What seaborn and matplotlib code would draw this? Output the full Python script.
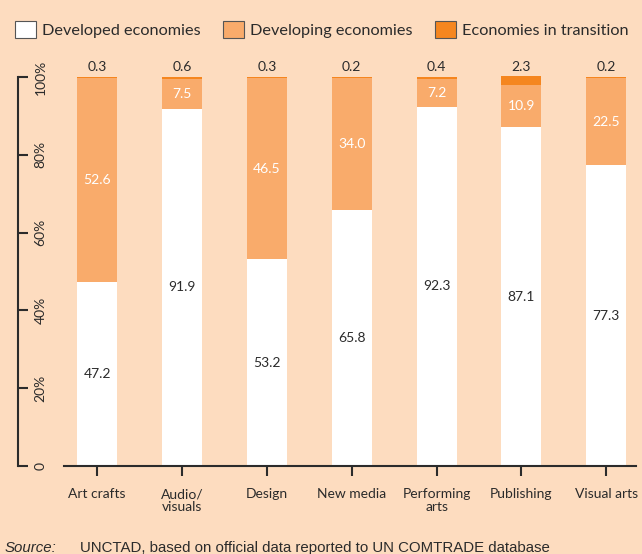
import matplotlib
matplotlib.use("Agg")
import matplotlib.pyplot as plt
import seaborn as sns
import pandas as pd
from matplotlib.patches import Patch

categories = ["Art crafts", "Audio/\nvisuals", "Design", "New media", "Performing\narts", "Publishing", "Visual arts"]
developed = [47.2, 91.9, 53.2, 65.8, 92.3, 87.1, 77.3]
developing = [52.6, 7.5, 46.5, 34.0, 7.2, 10.9, 22.5]
transition = [0.3, 0.6, 0.3, 0.2, 0.4, 2.3, 0.2]
ytick_vals = [0, 20, 40, 60, 80, 100]
ytick_labels = ["0", "20%", "40%", "60%", "80%", "100%"]

BG = "#FDDCBF"
C_DEV = "#FFFFFF"
C_DVG = "#F9AB6B"
C_TRN = "#F5861F"
DARK = "#2b2b2b"

sns.set_theme(style="white")
plt.rcParams["font.family"] = ["Lato", "DejaVu Sans"]

df = pd.DataFrame({"cat": categories, "dev": developed, "dvg": developing, "trn": transition})
df["top2"] = df["dev"] + df["dvg"]
df["top3"] = df["top2"] + df["trn"]

fig = plt.figure(figsize=(6.42, 5.54), dpi=100, facecolor=BG)
ax = fig.add_axes([64/642, 88/554, (636-64)/642, (466-77)/554])
ax.set_facecolor(BG)

w = 0.47
sns.barplot(data=df, x="cat", y="top3", color=C_TRN, saturation=1, width=w, ax=ax, linewidth=0)
sns.barplot(data=df, x="cat", y="top2", color=C_DVG, saturation=1, width=w, ax=ax, linewidth=0)
sns.barplot(data=df, x="cat", y="dev", color=C_DEV, saturation=1, width=w, ax=ax, linewidth=0)
for p in ax.patches:
    p.set_clip_on(False)

ax.set_ylim(0, 100)
ax.set_xlim(-0.39, 6.35)
ax.set_xlabel("")
ax.set_ylabel("")

fs = 10
for i in range(len(categories)):
    ax.text(i, developed[i] / 2, f"{developed[i]:.1f}", ha="center", va="center", fontsize=fs, color=DARK)
    ax.text(i, developed[i] + developing[i] / 2, f"{developing[i]:.1f}", ha="center", va="center", fontsize=fs, color="white")
    ax.text(i, 100.9, f"{transition[i]:.1f}", ha="center", va="bottom", fontsize=fs, color=DARK, clip_on=False)

# spines
for s in ["top", "right"]:
    ax.spines[s].set_visible(False)
ax.spines["left"].set_position(("outward", 46 * 72 / 100))
ax.spines["left"].set_color(DARK)
ax.spines["bottom"].set_color(DARK)
ax.spines["left"].set_linewidth(1.5)
ax.spines["bottom"].set_linewidth(1.5)

ax.set_yticks(ytick_vals)
ax.set_yticklabels(ytick_labels)
ax.tick_params(axis="y", direction="in", length=7, width=1.5, color=DARK, pad=-20.5,
               labelsize=fs, labelcolor=DARK, left=True)
for lbl in ax.get_yticklabels():
    lbl.set_rotation(90)
    lbl.set_ha("right")
    lbl.set_va("center")

ax.tick_params(axis="x", direction="out", length=7, width=1.5, color=DARK, pad=9,
               labelsize=fs, labelcolor=DARK, bottom=True)
for lbl in ax.get_xticklabels():
    lbl.set_linespacing(1.05)

handles = [Patch(facecolor=C_DEV, edgecolor="#555555", linewidth=0.8, label="Developed economies"),
           Patch(facecolor=C_DVG, edgecolor="#555555", linewidth=0.8, label="Developing economies"),
           Patch(facecolor=C_TRN, edgecolor="#555555", linewidth=0.8, label="Economies in transition")]
fig.legend(handles=handles, loc="upper left", bbox_to_anchor=(0.005, 0.982), ncol=3, frameon=False,
           fontsize=11.7, handlelength=1.3, handleheight=1.2, handletextpad=0.4, columnspacing=1.35,
           labelcolor=DARK, borderaxespad=0.3)

fig.text(5/642, 1 - 552/554, "Source:", fontsize=10.8, style="italic", family="Liberation Sans", color=DARK, va="baseline")
fig.text(80/642, 1 - 552/554, "UNCTAD, based on official data reported to UN COMTRADE database", fontsize=10.8,
         family="Liberation Sans", color=DARK, va="baseline")

fig.savefig("out.png", dpi=100, facecolor=BG)
